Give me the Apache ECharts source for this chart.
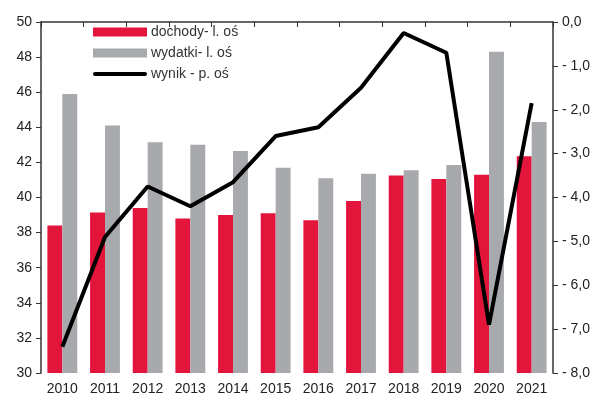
<!DOCTYPE html>
<html>
<head>
<meta charset="utf-8">
<script src="https://cdn.jsdelivr.net/npm/echarts@6/dist/echarts.min.js"></script>
<style>
  html, body { margin: 0; padding: 0; background: #fff; }
  #main { width: 601px; height: 403px; }
</style>
</head>
<body>
<div id="main"></div>
<script>
// lata
var years = ["2010", "2011", "2012", "2013", "2014", "2015", "2016", "2017", "2018", "2019", "2020", "2021"];
// dochody - lewa oś
var dochody = [38.4, 39.15, 39.4, 38.8, 39.0, 39.1, 38.7, 39.8, 41.25, 41.05, 41.3, 42.35];
// wydatki - lewa oś
var wydatki = [45.9, 44.1, 43.15, 43.0, 42.65, 41.7, 41.1, 41.35, 41.55, 41.85, 48.3, 44.3];
// wynik - prawa oś
var wynik = [-7.4, -4.9, -3.75, -4.2, -3.65, -2.6, -2.4, -1.5, -0.25, -0.7, -6.9, -1.85];

var axisColor = "#333";
var font = "Liberation Sans, Arial, sans-serif";

var myChart = echarts.init(document.getElementById("main"));
var option = {
  animation: false,
  textStyle: { fontFamily: font },
  legend: {
    orient: "vertical",
    left: 88,
    top: 20,
    itemWidth: 54,
    itemHeight: 9,
    itemGap: 7,
    textStyle: { fontSize: 14, color: "#333", fontFamily: font, padding: [0, 0, 0, -1] },
    data: [
      { name: "dochody- l. oś", icon: "rect" },
      { name: "wydatki- l. oś", icon: "rect" },
      { name: "wynik - p. oś", icon: "path://M2,3 L52,3 A2,2 0 0 1 52,7 L2,7 A2,2 0 0 1 2,3 Z" }
    ]
  },
  grid: { left: 41, right: 48, top: 22, bottom: 30 },
  xAxis: {
    type: "category",
    data: years,
    axisLine: { lineStyle: { color: axisColor, width: 1.5 } },
    axisTick: { show: true, length: 5, lineStyle: { color: axisColor } },
    axisLabel: { color: "#222", fontSize: 14, margin: 9, fontFamily: font }
  },
  yAxis: [
    {
      type: "value",
      min: 30,
      max: 50,
      interval: 2,
      splitLine: { show: false },
      axisLine: { show: true, lineStyle: { color: axisColor, width: 1.5 } },
      axisTick: { show: true, length: 5, lineStyle: { color: axisColor } },
      axisLabel: { color: "#222", fontSize: 14, margin: 9, fontFamily: font }
    },
    {
      type: "value",
      min: -8,
      max: 0,
      interval: 1,
      splitLine: { show: false },
      axisLine: { show: true, lineStyle: { color: axisColor, width: 1.5 } },
      axisTick: { show: true, length: 5, lineStyle: { color: axisColor } },
      axisLabel: {
        color: "#222",
        fontSize: 14,
        margin: 9,
        fontFamily: font,
        formatter: function (v) {
          var s = Math.abs(v).toFixed(1).replace(".", ",");
          return v < 0 ? "- " + s : s;
        }
      }
    }
  ],
  series: [
    {
      name: "dochody- l. oś",
      type: "bar",
      data: dochody,
      itemStyle: { color: "#e3153b" },
      barGap: "0%",
      barCategoryGap: "30%"
    },
    {
      name: "wydatki- l. oś",
      type: "bar",
      data: wydatki,
      itemStyle: { color: "#a8a9ad" }
    },
    {
      name: "wynik - p. oś",
      type: "line",
      yAxisIndex: 1,
      data: wynik,
      symbol: "none",
      lineStyle: { color: "#000", width: 4 },
      itemStyle: { color: "#000" },
      z: 5
    }
  ]
};
myChart.setOption(option);
</script>
</body>
</html>
